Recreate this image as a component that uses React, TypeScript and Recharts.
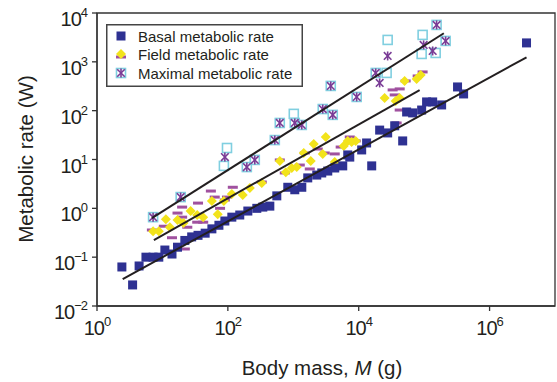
import React from "react"
import {
  ScatterChart,
  Scatter,
  XAxis,
  YAxis,
  Label,
  ReferenceArea,
} from "recharts"

// basal metabolic rate (navy squares)
const basalMass = [
  2.4, 3.5, 4.4, 5.6, 7.2, 8.8, 10.9, 14, 17, 22, 28, 35, 45, 57, 73, 90, 115, 152, 202, 277,
  342, 438, 560, 824, 1054, 1349, 1664, 2285, 2723, 3365, 4303, 5700, 6800, 7300, 11100, 13200,
  15800, 20900, 27700, 35500, 47000, 54000, 66700, 91600, 109000, 135000, 185000, 324000, 401000,
  3670000,
]
const basalRate = [
  0.063, 0.027, 0.066, 0.1, 0.1, 0.1, 0.14, 0.116, 0.16, 0.22, 0.26, 0.28, 0.31, 0.38, 0.45, 0.55,
  0.66, 0.73, 0.88, 1.0, 1.06, 1.11, 1.8, 2.7, 2.4, 2.7, 4.2, 4.8, 5.3, 5.8, 6.7, 7.4, 12.4, 11.2,
  15.7, 21.8, 7.4, 40, 35, 49, 24, 94, 90, 103, 151, 151, 131, 306, 220, 2440,
]

// field metabolic rate (yellow diamonds + magenta dashes)
const fieldMass = [
  7.2, 8.8, 11.3, 13, 17, 21, 27, 34, 42, 57, 70, 87, 115, 169, 217, 330, 622, 768, 948, 1130,
  1445, 1850, 2055, 2820, 3135, 4300, 5900, 6800, 7800, 9000, 24900, 36700, 42300, 50300, 76800,
  88500,
]
const fieldRate = [
  0.34, 0.34, 0.6, 0.41, 0.58, 0.5, 0.88, 0.73, 0.66, 1.41, 0.76, 1.41, 1.96, 1.87, 2.6, 3.3, 9.3,
  5.5, 6.7, 7.0, 13.6, 9.3, 20.8, 13, 28.9, 8.9, 18.9, 24, 22.8, 24, 182, 158, 182, 406, 447, 540,
]
const fieldDashMass = [
  6.9, 10.5, 14, 17, 20, 20, 24, 35, 34, 42, 55, 63, 76, 97, 119, 22, 90, 330, 622, 741, 1257,
  1500, 1787, 2366, 3027, 4300, 5300, 7300, 9000, 33000, 42300, 35500, 42300, 38000, 52200, 79600,
  94800,
]
const fieldDashRate = [
  0.36, 0.43, 0.25, 0.8, 1.06, 0.66, 0.41, 1.28, 0.52, 0.52, 2.26, 1.7, 1.0, 1.7, 2.7, 0.147, 1.48,
  3.46, 9.8, 5.3, 7.7, 13.6, 6.4, 16.4, 13.6, 13, 18, 28.9, 24, 266, 279, 210, 103, 56, 406, 514,
  621,
]

// maximal metabolic rate (cyan open squares + purple asterisks)
const maxBoxMass = [
  7.2, 19, 195, 258, 522, 622, 1054, 1349, 2820, 4010, 3740, 9310, 18200, 155000, 213000, 97, 87,
  1018, 27700, 26700, 94800, 91600, 150000,
]
const maxBoxRate = [
  0.66, 1.7, 7.0, 9.8, 25, 56, 56, 51, 108, 82, 321, 191, 592, 5700, 2680, 17.2, 7.4, 86, 2810, 593,
  3560, 1450, 1520,
]
const maxStarMass = [
  7.2, 19, 195, 258, 522, 622, 1054, 1349, 2820, 4010, 3740, 9310, 18200, 155000, 213000, 90, 27700,
  20900, 98200, 135000,
]
const maxStarRate = [
  0.66, 1.7, 7.0, 9.8, 25, 56, 56, 51, 108, 82, 321, 191, 592, 5700, 2680, 11.2, 1320, 370, 2220,
  1670,
]

// fitted lines, end points
const maxFitMass = [6.9, 200000]
const maxFitRate = [0.63, 3850]
const fieldFitMass = [7.4, 85300]
const fieldFitRate = [0.224, 263]
const basalFitMass = [2.47, 3670000]
const basalFitRate = [0.0356, 1240]

const xTicks = [1, 100, 10000, 1000000]
const yTicks = [0.01, 0.1, 1, 10, 100, 1000, 10000]

const NAVY = "#2e3192"
const YELLOW = "#f2e31b"
const MAGENTA = "#a0519f"
const CYAN = "#80cfe0"
const PURPLE = "#7a3c96"
const INK = "#231f20"
const FONT = '"Liberation Sans", Arial, Helvetica, sans-serif'

const zip = (xs: number[], ys: number[]) => xs.map((x, i) => ({ x, y: ys[i] }))

const basal = zip(basalMass, basalRate)
const field = zip(fieldMass, fieldRate)
const fieldDash = zip(fieldDashMass, fieldDashRate)
const maxBox = zip(maxBoxMass, maxBoxRate)
const maxStar = zip(maxStarMass, maxStarRate)
const maxFit = zip(maxFitMass, maxFitRate)
const fieldFit = zip(fieldFitMass, fieldFitRate)
const basalFit = zip(basalFitMass, basalFitRate)

const sup = (v: number) => {
  const e = Math.round(Math.log10(v))
  return e < 0 ? "\u2212" + Math.abs(e) : String(e)
}

const SquareDot = ({ cx, cy }: any) => (
  <rect x={cx - 4.5} y={cy - 4.5} width={9} height={9} fill={NAVY} />
)
const DiamondDot = ({ cx, cy }: any) => (
  <polygon points={`${cx},${cy - 5} ${cx + 5},${cy} ${cx},${cy + 5} ${cx - 5},${cy}`} fill={YELLOW} />
)
const DashDot = ({ cx, cy }: any) => (
  <rect x={cx - 5} y={cy - 1.5} width={10} height={3} fill={MAGENTA} />
)
const BoxDot = ({ cx, cy }: any) => (
  <rect x={cx - 4.5} y={cy - 4.5} width={9} height={9} fill="none" stroke={CYAN} strokeWidth={1.6} />
)
const StarDot = ({ cx, cy }: any) => (
  <g stroke={PURPLE} strokeWidth={1.6}>
    <line x1={cx} y1={cy - 4.5} x2={cx} y2={cy + 4.5} />
    <line x1={cx - 3.8} y1={cy - 3.8} x2={cx + 3.8} y2={cy + 3.8} />
    <line x1={cx - 3.8} y1={cy + 3.8} x2={cx + 3.8} y2={cy - 3.8} />
  </g>
)
const NoDot = () => <g />

const XTick = ({ x, y, payload }: any) => (
  <text x={x} y={y + 22} textAnchor="middle" fill={INK} fontSize={20} letterSpacing={-1} fontFamily={FONT}>
    <tspan>10</tspan>
    <tspan dy={-9} fontSize={13}>{sup(payload.value)}</tspan>
  </text>
)
const YTick = ({ x, y, payload }: any) => (
  <text x={x - 3} y={y + 13} textAnchor="end" fill={INK} fontSize={20} letterSpacing={-1} fontFamily={FONT}>
    <tspan>10</tspan>
    <tspan dy={-9} fontSize={13}>{sup(payload.value)}</tspan>
  </text>
)

function LegendBox() {
  const rows = ["Basal metabolic rate", "Field metabolic rate", "Maximal metabolic rate"]
  return (
    <svg width={197} height={63} style={{ position: "absolute", left: 106, top: 24 }}>
      <rect x={0.75} y={0.75} width={195.5} height={61.5} fill="#fff" stroke="#444" strokeWidth={1.5} />
      <SquareDot cx={15} cy={12} />
      <DashDot cx={15} cy={33} />
      <DiamondDot cx={15} cy={30} />
      <BoxDot cx={15} cy={49} />
      <StarDot cx={15} cy={49} />
      {rows.map((r, i) => (
        <text key={r} x={32} y={17.5 + i * 18.5} fontSize={15} fill={INK} fontFamily={FONT}>
          {r}
        </text>
      ))}
    </svg>
  )
}

export default function App() {
  return (
    <div style={{ position: "absolute", left: 0, top: 0, width: 557, height: 382, background: "#fff", fontFamily: FONT }}>
      <ScatterChart width={557} height={382} margin={{ top: 13, right: 2, bottom: 0, left: 0 }}>
        <XAxis
          type="number"
          dataKey="x"
          scale="log"
          domain={[1, 10000000]}
          ticks={xTicks}
          allowDataOverflow
          height={76}
          tickSize={5}
          tickMargin={2}
          tick={<XTick />}
          axisLine={{ stroke: "#333", strokeWidth: 1.3 }}
          tickLine={{ stroke: "#333", strokeWidth: 1.3 }}
        >
          <Label
            content={() => (
              <text x={322} y={375} textAnchor="middle" fontSize={20.5} fill={INK} fontFamily={FONT}>
                Body mass, <tspan fontStyle="italic">M</tspan> (g)
              </text>
            )}
          />
        </XAxis>
        <YAxis
          type="number"
          dataKey="y"
          scale="log"
          domain={[0.01, 10000]}
          ticks={yTicks}
          allowDataOverflow
          width={97}
          tickSize={5}
          tickMargin={2}
          tick={<YTick />}
          axisLine={{ stroke: "#333", strokeWidth: 1.3 }}
          tickLine={{ stroke: "#333", strokeWidth: 1.3 }}
        >
          <Label
            content={() => (
              <text
                x={33}
                y={159}
                transform="rotate(-90, 33, 159)"
                textAnchor="middle"
                fontSize={20.5}
                fill={INK}
                fontFamily={FONT}
              >
                Metabolic rate (W)
              </text>
            )}
          />
        </YAxis>
        <ReferenceArea x1={1} x2={10000000} y1={0.01} y2={10000} fill="none" stroke="#333" strokeWidth={1.3} />
        <Scatter data={fieldDash} shape={<DashDot />} isAnimationActive={false} />
        <Scatter data={field} shape={<DiamondDot />} isAnimationActive={false} />
        <Scatter data={basal} shape={<SquareDot />} isAnimationActive={false} />
        <Scatter data={maxBox} shape={<BoxDot />} isAnimationActive={false} />
        <Scatter data={maxStar} shape={<StarDot />} isAnimationActive={false} />
        <Scatter data={maxFit} line={{ stroke: INK, strokeWidth: 2 }} shape={<NoDot />} isAnimationActive={false} />
        <Scatter data={fieldFit} line={{ stroke: INK, strokeWidth: 2 }} shape={<NoDot />} isAnimationActive={false} />
        <Scatter data={basalFit} line={{ stroke: INK, strokeWidth: 2 }} shape={<NoDot />} isAnimationActive={false} />
      </ScatterChart>
      <LegendBox />
    </div>
  )
}
